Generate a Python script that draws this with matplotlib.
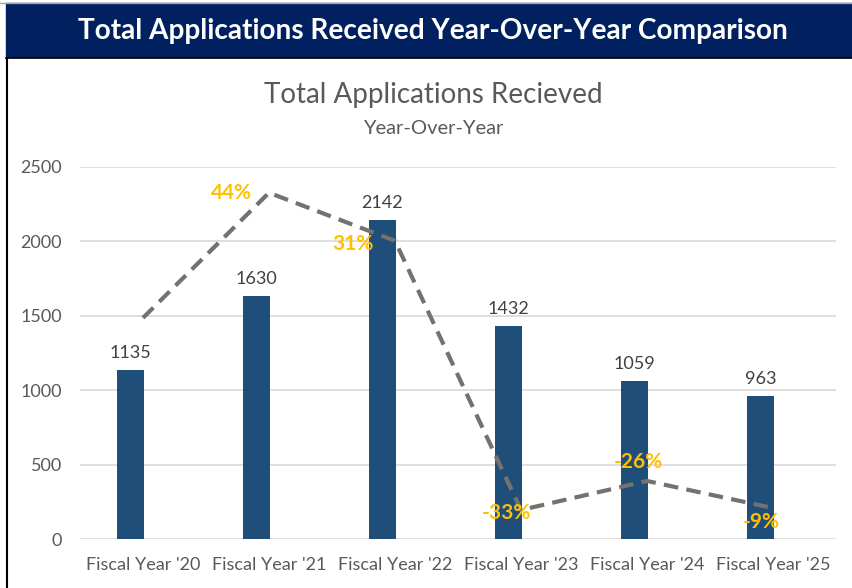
import matplotlib
matplotlib.use("Agg")
import matplotlib.pyplot as plt
from matplotlib.patches import Rectangle
from matplotlib.lines import Line2D

plt.rcParams['font.family'] = ['Lato', 'DejaVu Sans']

categories = ["Fiscal Year '20", "Fiscal Year '21", "Fiscal Year '22",
              "Fiscal Year '23", "Fiscal Year '24", "Fiscal Year '25"]
applications = [1135, 1630, 2142, 1432, 1059, 963]
# dashed trend line level (as drawn, on the chart's value scale)
trend_level = [1486, 2327, 2004, 195, 390, 208]
pct_labels = ["", "44%", "31%", "-33%", "-26%", "-9%"]
yticks = [0, 500, 1000, 1500, 2000, 2500]

W, H = 853, 588
fig = plt.figure(figsize=(W / 100, H / 100), dpi=100)

# header band
fig.patches.append(Rectangle((6 / W, 1 - 57 / H), 1 - 6 / W, 54 / H,
                             transform=fig.transFigure, color='#002060', zorder=0))
fig.lines.append(Line2D([0, 1], [1 - 2.5 / H, 1 - 2.5 / H], transform=fig.transFigure,
                        color='#A6A6A6', lw=1))
fig.lines.append(Line2D([6 / W, 1], [1 - 57.5 / H, 1 - 57.5 / H], transform=fig.transFigure,
                        color='#000000', lw=1.2))
fig.lines.append(Line2D([7.5 / W, 7.5 / W], [0, 1 - 57.5 / H], transform=fig.transFigure,
                        color='#000000', lw=1.5))
fig.text(433 / W, 1 - 31 / H, "Total Applications Received Year-Over-Year Comparison",
         color='white', fontsize=20.2, fontweight='bold', ha='center', va='center')

# chart titles
fig.text(433 / W, 1 - 95 / H, "Total Applications Recieved", color='#595959',
         fontsize=20, ha='center', va='center')
fig.text(433 / W, 1 - 128 / H, "Year-Over-Year", color='#595959',
         fontsize=14.5, ha='center', va='center')

ax = fig.add_axes([80 / W, 49 / H, (836 - 80) / W, (539 - 167) / H])
x = list(range(len(categories)))
xb = [xi - 0.1 for xi in x]  # bars sit slightly left of the category centre
ax.bar(xb, applications, width=0.22, color='#1F4E79', zorder=2)
for xi, v in zip(xb, applications):
    ax.annotate(str(v), (xi, v), xytext=(0, 9), textcoords='offset pixels',
                ha='center', va='bottom', fontsize=13, color='#404040')

ax.set_ylim(0, 2500)
ax.set_xlim(-0.5, 5.5)
ax.set_yticks(yticks)
ax.set_xticks(x)
ax.set_xticklabels(categories)
ax.tick_params(axis='both', length=0, labelsize=13, colors='#595959')
ax.tick_params(axis='y', pad=13)
ax.tick_params(axis='x', pad=13)
ax.grid(axis='y', color='#D9D9D9', lw=1.2, zorder=0)
ax.set_axisbelow(True)
for s in ax.spines.values():
    s.set_visible(False)

# trend line
ax.plot(x, trend_level, color='#767171', lw=3, dashes=(3.5, 2), zorder=3,
        solid_capstyle='butt', dash_capstyle='butt')
offsets = [(0, 0), (-38, 0), (-42, -3), (-15, -3), (-9, 19), (-12, -14)]
for xi, yv, lab, off in zip(x, trend_level, pct_labels, offsets):
    if lab:
        ax.annotate(lab, (xi, yv), xytext=off, textcoords='offset pixels',
                    ha='center', va='center', fontsize=15, fontweight='bold',
                    color='#FFC000', zorder=4)

fig.savefig('out.png', dpi=100)
